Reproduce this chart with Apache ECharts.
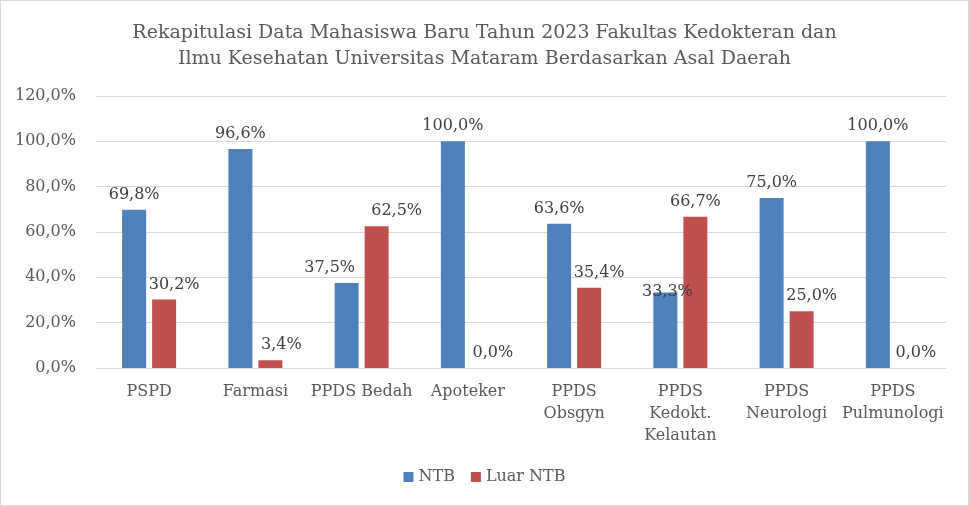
<!DOCTYPE html>
<html>
<head>
    <meta charset="utf-8">
    <title>Rekapitulasi Data Mahasiswa Baru 2023</title>
    <script src="https://cdn.jsdelivr.net/npm/echarts@6/dist/echarts.min.js"></script>
    <style>
        body { margin: 0; background: #fff; }
        #main { width: 967px; height: 504px; border: 1px solid #d9d9d9; }
    </style>
</head>
<body>
    <div id="main"></div>
<script>
// data
const categories = ['PSPD', 'Farmasi', 'PPDS Bedah', 'Apoteker', 'PPDS\nObsgyn', 'PPDS\nKedokt.\nKelautan', 'PPDS\nNeurologi', 'PPDS\nPulmunologi'];
const ntb = [69.8, 96.6, 37.5, 100.0, 63.6, 33.3, 75.0, 100.0];
const luarNtb = [30.2, 3.4, 62.5, 0.0, 35.4, 66.7, 25.0, 0.0];

const FONT = 'DejaVu Serif';

// label nudges, like the excel layout
const ntbOffsets = { 2: [-17, 0], 5: [2, 14] };
const luarOffsets = { 0: [10, 0], 1: [11, 0], 2: [20, 0], 3: [10, 0], 4: [10, 0], 6: [10, 0], 7: [8, 0] };

function withOffsets(values, offsets) {
    return values.map((v, i) => offsets[i] ? { value: v, label: { offset: offsets[i] } } : v);
}

const labelStyle = {
    show: true,
    position: 'top',
    distance: 7,
    color: '#404040',
    fontFamily: FONT,
    fontSize: 16,
    formatter: p => p.value.toFixed(1).replace('.', ',') + '%'
};

const option = {
    title: {
        text: 'Rekapitulasi Data Mahasiswa Baru Tahun 2023 Fakultas Kedokteran dan\nIlmu Kesehatan Universitas Mataram Berdasarkan Asal Daerah',
        left: 'center',
        top: 14,
        textStyle: { color: '#595959', fontFamily: FONT, fontSize: 19, fontWeight: 'normal', lineHeight: 26 }
    },
    legend: {
        data: ['NTB', 'Luar NTB'],
        bottom: 15,
        left: 'center',
        itemWidth: 10,
        itemHeight: 10,
        itemGap: 16,
        icon: 'rect',
        textStyle: { color: '#595959', fontFamily: FONT, fontSize: 16 }
    },
    grid: { left: 95, right: 22, top: 95, bottom: 137 },
    xAxis: {
        type: 'category',
        data: categories,
        axisLine: { lineStyle: { color: '#d9d9d9' } },
        axisTick: { show: false },
        axisLabel: { color: '#595959', fontFamily: FONT, fontSize: 16, lineHeight: 22, margin: 13, interval: 0 }
    },
    yAxis: {
        type: 'value',
        min: 0,
        max: 120,
        interval: 20,
        axisLine: { show: false },
        axisTick: { show: false },
        splitLine: { lineStyle: { color: '#d9d9d9' } },
        axisLabel: {
            color: '#595959', fontFamily: FONT, fontSize: 16, margin: 20,
            formatter: v => v.toFixed(1).replace('.', ',') + '%'
        }
    },
    series: [
        {
            name: 'NTB',
            type: 'bar',
            barWidth: 24,
            barGap: '25%',
            itemStyle: { color: '#4f81bd' },
            label: labelStyle,
            data: withOffsets(ntb, ntbOffsets)
        },
        {
            name: 'Luar NTB',
            type: 'bar',
            barWidth: 24,
            itemStyle: { color: '#c0504d' },
            label: labelStyle,
            data: withOffsets(luarNtb, luarOffsets)
        }
    ]
};

const chart = echarts.init(document.getElementById('main'));
chart.setOption(option);
</script>
</body>
</html>
